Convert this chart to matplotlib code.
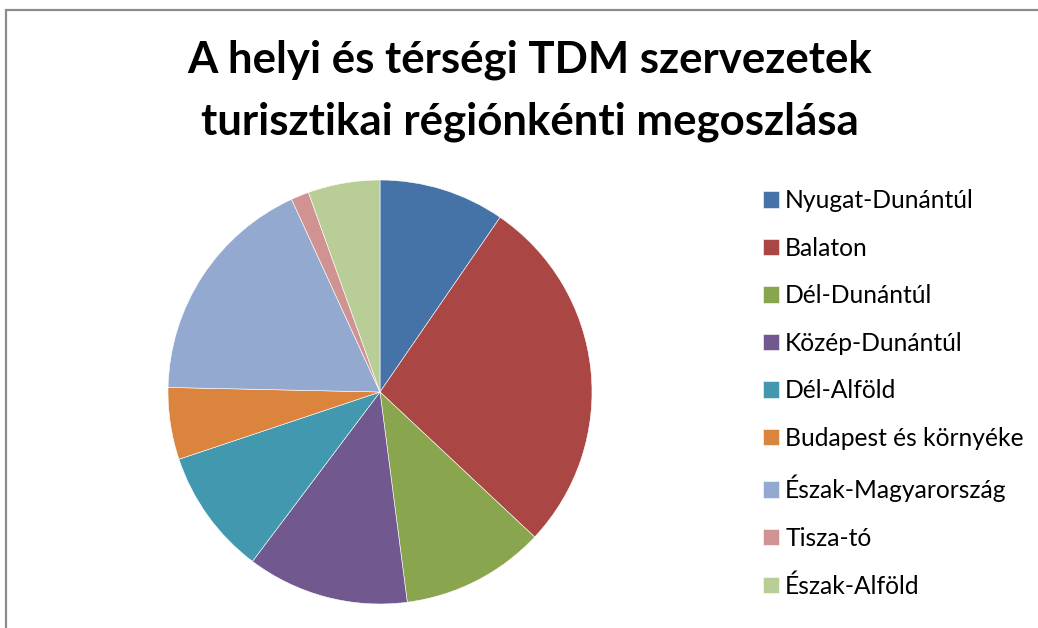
import matplotlib.pyplot as plt
from matplotlib.patches import Rectangle

# ── data ──────────────────────────────────────────────────────────────
regions = [
    "Nyugat-Dunántúl",
    "Balaton",
    "Dél-Dunántúl",
    "Közép-Dunántúl",
    "Dél-Alföld",
    "Budapest és környéke",
    "Észak-Magyarország",
    "Tisza-tó",
    "Észak-Alföld",
]
counts = [7, 20, 8, 9, 7, 4, 13, 1, 4]
colors = ["#4572A7", "#AA4643", "#89A54E", "#71588F", "#4198AF",
          "#DB843D", "#93A9CF", "#D19392", "#B9CD96"]

title = "A helyi és térségi TDM szervezetek\nturisztikai régiónkénti megoszlása"

plt.rcParams["font.family"] = ["Lato", "DejaVu Sans"]

W, H = 1038, 628
fig = plt.figure(figsize=(W / 100, H / 100), dpi=100)

# chart border
fig.patches.append(Rectangle((6 / W, -0.1), 1.2, (H - 10) / H + 0.1,
                             transform=fig.transFigure, fill=False,
                             edgecolor="#8c8c8c", linewidth=1.6))

# pie: centre (380, 392), radius 212 px
cx, cy, r = 380, 392, 212
ax = fig.add_axes([(cx - r) / W, (H - cy - r) / H, 2 * r / W, 2 * r / H])
wedges, _ = ax.pie(counts, colors=colors, startangle=90, counterclock=False,
                   radius=1, wedgeprops=dict(edgecolor="white", linewidth=0.4))
ax.set_xlim(-1, 1)
ax.set_ylim(-1, 1)
ax.set_aspect("equal")
ax.axis("off")

fig.text(530 / W, 1 - 91 / H, title, ha="center", va="center",
         fontsize=31.5, fontweight="bold", linespacing=1.64)

fig.legend(wedges, regions, loc="upper left",
           bbox_to_anchor=(763 / W, 1 - 189 / H),
           frameon=False, fontsize=17.7, handlelength=0.65, handleheight=0.65,
           handletextpad=0.25, labelspacing=1.0, borderpad=0, borderaxespad=0)

fig.savefig("out.png", dpi=100)
